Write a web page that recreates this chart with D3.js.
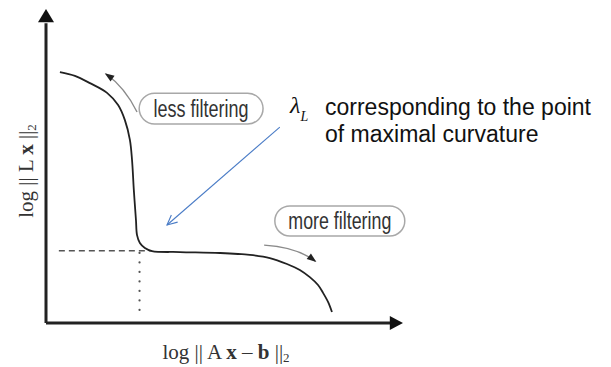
<!DOCTYPE html>
<html><head><meta charset="utf-8">
<script src="https://cdn.jsdelivr.net/npm/d3@7/dist/d3.min.js"></script>
<style>html,body{margin:0;padding:0;background:#fff;}svg{display:block;}</style>
</head><body>
<svg id="c" width="611" height="367"></svg>
<script>
// L-curve (log residual norm vs log solution seminorm), arbitrary units 0..100
const curveX = [3.9, 8.1, 12.3, 17.1, 20.2, 22.1, 23.5, 24.1, 24.6, 25.2, 25.5, 26.3, 27.7, 29.7, 37.5, 48.7, 57.1, 62.7, 67.5, 71.1, 73.9, 76.2, 77.6, 79.0, 80.1];
const curveY = [79.9, 78.7, 76.4, 73.3, 69.4, 64.6, 58.3, 51.9, 42.4, 32.8, 28.0, 25.5, 23.9, 22.9, 22.6, 22.3, 21.7, 20.7, 18.8, 16.9, 14.6, 12.1, 9.6, 6.7, 3.5];
// corner (point of maximal curvature)
const cornerX = [26.2];
const cornerY = [23.0];
const labels = ["less filtering", "more filtering"];
const annotation = ["corresponding to the point", "of maximal curvature"];

const svg = d3.select("#c");
const x = d3.scaleLinear().domain([0, 100]).range([46, 403]);
const y = d3.scaleLinear().domain([0, 100]).range([323, 9]);

// axes
svg.append("line").attr("x1", x(0)).attr("x2", x(96.5)).attr("y1", y(0)).attr("y2", y(0))
  .attr("stroke", "#222").attr("stroke-width", 3);
svg.append("line").attr("x1", x(0)).attr("x2", x(0)).attr("y1", y(0)).attr("y2", y(95.5))
  .attr("stroke", "#222").attr("stroke-width", 3);
svg.append("path").attr("d", `M${x(100)},${y(0)} L${x(96.3)},${y(0)-7} L${x(96.3)},${y(0)+7} Z`).attr("fill", "#111");
svg.append("path").attr("d", `M${x(0)},${y(100)} L${x(0)-8},${y(95.8)} L${x(0)+8},${y(95.8)} Z`).attr("fill", "#111");

// dashed/dotted guides at corner
svg.append("line").attr("x1", x(3.6)).attr("x2", x(cornerX[0] + 3.4)).attr("y1", y(cornerY[0])).attr("y2", y(cornerY[0]))
  .attr("stroke", "#555").attr("stroke-width", 1.5).attr("stroke-dasharray", "6,4");
svg.append("line").attr("x1", x(cornerX[0])).attr("x2", x(cornerX[0])).attr("y1", y(cornerY[0]) + 2).attr("y2", y(4.0))
  .attr("stroke", "#555").attr("stroke-width", 2.2).attr("stroke-linecap", "round").attr("stroke-dasharray", "0.1,9.4");

// curve
const pts = curveX.map((v, i) => [v, curveY[i]]);
svg.append("path").datum(pts)
  .attr("d", d3.line().x(d => x(d[0])).y(d => y(d[1])).curve(d3.curveCatmullRom.alpha(0.5)))
  .attr("fill", "none").attr("stroke", "#222").attr("stroke-width", 1.8);

// gray direction arrows
function curvedArrow(p0, c, p2) {
  const P0 = [x(p0[0]), y(p0[1])], C = [x(c[0]), y(c[1])], P2 = [x(p2[0]), y(p2[1])];
  const pth = d3.path(); pth.moveTo(P0[0], P0[1]); pth.quadraticCurveTo(C[0], C[1], P2[0], P2[1]);
  svg.append("path").attr("d", pth.toString()).attr("fill", "none").attr("stroke", "#8a8a8a").attr("stroke-width", 1.4);
  const ang = Math.atan2(P2[1] - C[1], P2[0] - C[0]);
  const L = 8, W = 3.5;
  const bx = P2[0] - L * Math.cos(ang), by = P2[1] - L * Math.sin(ang);
  svg.append("path").attr("d", `M${P2[0]+1.5*Math.cos(ang)},${P2[1]+1.5*Math.sin(ang)} L${bx - W*Math.sin(ang)},${by + W*Math.cos(ang)} L${bx + W*Math.sin(ang)},${by - W*Math.cos(ang)} Z`).attr("fill", "#222");
}
curvedArrow([25.5, 67.2], [22.0, 75.2], [16.8, 79.3]);
curvedArrow([61.1, 24.8], [70.2, 24.2], [75.4, 19.7]);

// pill labels
function pill(text, x0, x1, y0, y1, tlen) {
  const px0 = x(x0), px1 = x(x1), py0 = y(y0), py1 = y(y1);
  const h = py1 - py0;
  svg.append("rect").attr("x", px0).attr("y", py0).attr("width", px1 - px0).attr("height", h)
    .attr("rx", h / 2).attr("ry", h / 2).attr("fill", "#fff").attr("stroke", "#a8a8a8").attr("stroke-width", 1.5);
  svg.append("text").attr("x", (px0 + px1) / 2).attr("y", py0 + h / 2 + 8)
    .attr("text-anchor", "middle").attr("font-family", "Liberation Sans, Arial, sans-serif")
    .attr("font-size", 23).attr("fill", "#333")
    .attr("textLength", tlen).attr("lengthAdjust", "spacingAndGlyphs").text(text);
}
pill(labels[0], 26.1, 60.8, 73.2, 63.4, 95);
pill(labels[1], 64.1, 100.5, 37.3, 27.7, 103);

// blue pointer
const b0 = [x(65.5), y(62.4)], b1 = [x(33.9), y(31.2)];
svg.append("line").attr("x1", b0[0]).attr("y1", b0[1]).attr("x2", b1[0]).attr("y2", b1[1])
  .attr("stroke", "#4a7cc6").attr("stroke-width", 1.1);
{
  const ang = Math.atan2(b1[1] - b0[1], b1[0] - b0[0]);
  const L = 11;
  const a1 = ang + Math.PI - 0.45, a2 = ang + Math.PI + 0.45;
  svg.append("path").attr("d", `M${b1[0] + L*Math.cos(a1)},${b1[1] + L*Math.sin(a1)} L${b1[0]},${b1[1]} L${b1[0] + L*Math.cos(a2)},${b1[1] + L*Math.sin(a2)}`)
    .attr("fill", "none").attr("stroke", "#4a7cc6").attr("stroke-width", 1.1);
}

// lambda annotation
const lam = svg.append("text").attr("x", 290).attr("y", 113).attr("font-family", "Liberation Serif, Times New Roman, serif")
  .attr("font-style", "italic").attr("font-size", 24).attr("fill", "#111");
lam.append("tspan").text("λ");
lam.append("tspan").attr("font-size", 14).attr("dy", 8).attr("dx", 0).text("L");
svg.append("text").attr("x", 325).attr("y", 115).attr("font-family", "Liberation Sans, Arial, sans-serif")
  .attr("font-size", 23).attr("fill", "#111").text(annotation[0]);
svg.append("text").attr("x", 325).attr("y", 142).attr("font-family", "Liberation Sans, Arial, sans-serif")
  .attr("font-size", 23).attr("fill", "#111").text(annotation[1]);

// axis titles
const xt = svg.append("text").attr("x", 226).attr("y", 359).attr("text-anchor", "middle")
  .attr("font-family", "Liberation Serif, Times New Roman, serif").attr("font-size", 21).attr("fill", "#333");
xt.append("tspan").text("log || A ");
xt.append("tspan").attr("font-weight", "bold").text("x");
xt.append("tspan").text(" – ");
xt.append("tspan").attr("font-weight", "bold").text("b");
xt.append("tspan").text(" ||");
xt.append("tspan").attr("font-size", 13).attr("dy", 3).text("2");

const yt = svg.append("text").attr("transform", "translate(33,171) rotate(-90)").attr("text-anchor", "middle")
  .attr("font-family", "Liberation Serif, Times New Roman, serif").attr("font-size", 21).attr("fill", "#333");
yt.append("tspan").text("log || L ");
yt.append("tspan").attr("font-weight", "bold").text("x");
yt.append("tspan").text(" ||");
yt.append("tspan").attr("font-size", 13).attr("dy", 3).text("2");
</script>
</body></html>
